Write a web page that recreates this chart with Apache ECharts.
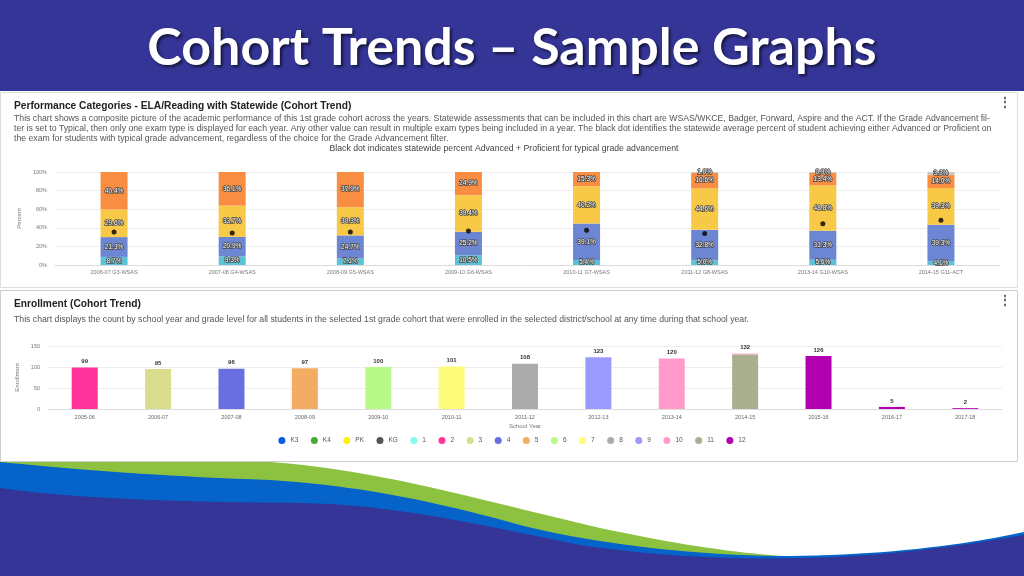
<!DOCTYPE html>
<html><head><meta charset="utf-8">
<script src="https://cdn.jsdelivr.net/npm/echarts@6/dist/echarts.min.js"></script>
<style>html,body{margin:0;padding:0;background:#fff}#c{width:1024px;height:576px}</style>
</head><body><div id="c"></div>
<script>
// ---- Performance chart data ----
const perfCats = ['2006-07 G3-WSAS','2007-08 G4-WSAS','2008-09 G5-WSAS','2009-10 G6-WSAS','2010-11 G7-WSAS','2011-12 G8-WSAS','2013-14 G10-WSAS','2014-15 G11-ACT'];
const perfMinimal    = [8.7, 9.3, 7.1, 10.5, 5.4, 5.0, 5.6, 4.1];
const perfBasic      = [21.3, 20.9, 24.7, 25.2, 39.1, 32.8, 31.3, 39.3];
const perfProficient = [29.6, 33.7, 30.3, 39.4, 40.2, 44.6, 48.8, 39.3];
const perfAdvanced   = [40.4, 36.1, 37.9, 24.9, 15.3, 16.6, 13.4, 14.0];
const perfOther      = ['-', '-', '-', '-', '-', 1.0, 0.9, 3.3];
const stateDots      = [35.5, 34.4, 35.5, 36.6, 37.3, 34.0, 44.4, 48.0];
const percentTicks   = [0, 20, 40, 60, 80, 100];

// ---- Enrollment chart data ----
const enrollYears = ['2005-06','2006-07','2007-08','2008-09','2009-10','2010-11','2011-12','2012-13','2013-14','2014-15','2015-16','2016-17','2017-18'];
const yearGrade   = ['2','3','4','5','6','7','8','9','10','11','12','12','12'];
const yearCount   = [99, 95, 96, 97, 100, 101, 108, 123, 120, 130, 126, 5, 2];
const extraGrade  = ['-','-','-','-','-','-','-','-','-','10','-','-','-'];
const extraCount  = [0, 0, 0, 0, 0, 0, 0, 0, 0, 2, 0, 0, 0];
const gradeNames  = ['K3','K4','PK','KG','1','2','3','4','5','6','7','8','9','10','11','12'];
const gradeColors = ['#0a5ae8','#48a838','#fff200','#555555','#7ffbef','#ff3399','#d9dc8c','#6b6ee0','#f4ab62','#b9f98a','#fffb7a','#ababab','#9b9bff','#ff9acb','#aab08f','#b000b0'];

const chart = echarts.init(document.getElementById('c'), null, {renderer:'canvas'});

const FONT = 'Liberation Sans, Arial, sans-serif';
const perfColors = ['#5bc3d5','#6c86d4','#f8c947','#f98d42','#c9c9c9'];
const perfSeriesData = [perfMinimal, perfBasic, perfProficient, perfAdvanced, perfOther];
const perfNames = ['Minimal','Basic','Proficient','Advanced','Other'];

const series = [];
perfSeriesData.forEach((d,i)=>{
  series.push({
    type:'bar', name:perfNames[i], stack:'perf', xAxisIndex:0, yAxisIndex:0,
    data:d, barWidth:27, itemStyle:{color:perfColors[i]},
    label:{show:true, position:'inside', fontSize:6.5, fontFamily:FONT, color:'#fff',
      textBorderColor:'#444', textBorderWidth:1.5, formatter:p=>Number(p.value).toFixed(1)+'%'}
  });
});
series.push({type:'scatter', name:'State', xAxisIndex:0, yAxisIndex:0, data:stateDots,
  symbolSize:5, itemStyle:{color:'#000'}, z:10});

const totals = enrollYears.map((y,i)=>yearCount[i]+extraCount[i]);
const order = ['K3','K4','PK','KG','1','2','3','4','5','6','7','8','9','11','10','12'];
order.forEach(g=>{
  const gi = gradeNames.indexOf(g);
  const data = enrollYears.map((y,i)=>{
    let v = 0;
    if (yearGrade[i]===g) v += yearCount[i];
    if (extraGrade[i]===g) v += extraCount[i];
    return v===0 ? '-' : v;
  });
  series.push({type:'bar', name:g, stack:'enr', xAxisIndex:1, yAxisIndex:1, data:data,
    barWidth:26, itemStyle:{color:gradeColors[gi]}});
});
series.push({type:'bar', name:'total', stack:'enr', xAxisIndex:1, yAxisIndex:1,
  data:enrollYears.map(()=>0), barWidth:26, itemStyle:{color:'transparent'},
  label:{show:true, position:'top', distance:3, fontSize:6, fontWeight:'bold', fontFamily:FONT, color:'#333',
    formatter:p=>String(totals[p.dataIndex])}, silent:true});

const desc1 = 'This chart shows a composite picture of the academic performance of this 1st grade cohort across the years. Statewide assessments that can be included in this chart are WSAS/WKCE, Badger, Forward, Aspire and the ACT. If the Grade Advancement fil-';
const desc2 = 'ter is set to Typical, then only one exam type is displayed for each year. Any other value can result in multiple exam types being included in a year. The black dot identifies the statewide average percent of student achieving either Advanced or Proficient on';
const desc3 = 'the exam for students with typical grade advancement, regardless of the choice for the Grade Advancement filter.';

function txt(x,y,t,opt){ return {type:'text', x:x, y:y, z:5, style:Object.assign({text:t, fill:'#555', font:'8.7px '+FONT, textVerticalAlign:'middle'}, opt||{})}; }

// decorative wave outlines (cubic bezier segments), sampled into polygons
function wave(start, segs, tail){
  const pts=[start.slice()]; let p0=start;
  segs.forEach(s=>{
    if (s.length===2){ pts.push(s); p0=s; return; }
    const [c1,c2,p3]=[[s[0],s[1]],[s[2],s[3]],[s[4],s[5]]];
    for(let k=1;k<=20;k++){const t=k/20,u=1-t;
      pts.push([u*u*u*p0[0]+3*u*u*t*c1[0]+3*u*t*t*c2[0]+t*t*t*p3[0],
                u*u*u*p0[1]+3*u*u*t*c1[1]+3*u*t*t*c2[1]+t*t*t*p3[1]]);}
    p0=p3;
  });
  return pts.concat(tail);
}
const greenPts = wave([0,462],[[270,462],[380,470,480,500,600,528],[680,545,740,554,800,557]],[[800,576],[0,576]]);
const bluePts = wave([0,462],[[60,468,150,476,270,480],[360,486,430,500,520,525],[600,545,700,556,790,556],[880,555,960,546,1024,532]],[[1024,576],[0,576]]);
const purplePts = wave([0,488],[[60,497,160,502,300,503],[400,505,480,525,580,545],[680,560,780,561,870,555],[940,549,990,541,1024,535]],[[1024,576],[0,576]]);

const option = {
  animation:false,
  backgroundColor:'#fff',
  textStyle:{fontFamily:FONT},
  grid:[
    {left:55, right:24, top:172, bottom:311},
    {left:48, right:22, top:346, bottom:167}
  ],
  xAxis:[
    {type:'category', gridIndex:0, data:perfCats, axisTick:{show:false},
     axisLine:{lineStyle:{color:'#ddd'}}, axisLabel:{fontSize:5.5, color:'#777', margin:4, fontFamily:FONT}},
    {type:'category', gridIndex:1, data:enrollYears, axisTick:{show:false},
     axisLine:{lineStyle:{color:'#ddd'}}, axisLabel:{fontSize:5.5, color:'#666', margin:5, fontFamily:FONT},
     name:'School Year', nameLocation:'middle', nameGap:14, nameTextStyle:{fontSize:6, color:'#777'}}
  ],
  yAxis:[
    {type:'value', gridIndex:0, min:percentTicks[0], max:percentTicks[percentTicks.length-1], interval:20,
     axisLabel:{formatter:'{value}%', fontSize:5.5, color:'#777', margin:8},
     splitLine:{lineStyle:{color:'#eee'}}, axisLine:{show:false}, axisTick:{show:false},
     name:'Percent', nameLocation:'middle', nameGap:22, nameTextStyle:{fontSize:6, color:'#777'}},
    {type:'value', gridIndex:1, min:0, max:150, interval:50,
     axisLabel:{fontSize:5.5, color:'#777', margin:8},
     splitLine:{lineStyle:{color:'#eee'}}, axisLine:{show:false}, axisTick:{show:false},
     name:'Enrollment', nameLocation:'middle', nameGap:19, nameTextStyle:{fontSize:6, color:'#777'}}
  ],
  legend:{data:gradeNames, left:'center', top:432, icon:'circle', itemWidth:7, itemHeight:7, itemGap:12.5,
    textStyle:{fontSize:6.5, color:'#555', fontFamily:FONT}},
  graphic:[
    {type:'rect', shape:{x:0,y:0,width:1024,height:91}, style:{fill:'#343596'}, z:0},
    {type:'text', x:512, y:48, z:5, style:{text:'Cohort Trends – Sample Graphs', fill:'#fff',
      font:'bold 52px Lato, "Open Sans", sans-serif', textAlign:'center', textVerticalAlign:'middle',
      textShadowColor:'rgba(0,0,0,0.6)', textShadowBlur:3, textShadowOffsetX:2, textShadowOffsetY:2}},
    {type:'rect', shape:{x:0.5,y:92.5,width:1017,height:195}, style:{fill:'#fff', stroke:'#ddd', lineWidth:1}, z:0},
    {type:'rect', shape:{x:0.5,y:290.5,width:1017,height:171}, style:{fill:'#fff', stroke:'#ccc', lineWidth:1}, z:0},
    txt(14,106,'Performance Categories - ELA/Reading with Statewide (Cohort Trend)',{fill:'#222', font:'bold 10.2px '+FONT}),
    txt(14,119,desc1), txt(14,129,desc2), txt(14,139,desc3),
    txt(504,149,'Black dot indicates statewide percent Advanced + Proficient for typical grade advancement',{textAlign:'center', fill:'#444'}),
    txt(1005,103,'⋮',{fill:'#555', font:'bold 12px '+FONT, textAlign:'center'}),
    txt(14,304,'Enrollment (Cohort Trend)',{fill:'#222', font:'bold 10.2px '+FONT}),
    txt(14,320,'This chart displays the count by school year and grade level for all students in the selected 1st grade cohort that were enrolled in the selected district/school at any time during that school year.'),
    txt(1005,301,'⋮',{fill:'#555', font:'bold 12px '+FONT, textAlign:'center'}),
    {type:'polygon', z:1, shape:{points:greenPts}, style:{fill:'#8cc240'}},
    {type:'polygon', z:2, shape:{points:bluePts}, style:{fill:'#0563c9'}},
    {type:'polygon', z:3, shape:{points:purplePts}, style:{fill:'#343596'}}
  ],
  series:series
};
chart.setOption(option);
</script>
</body></html>
